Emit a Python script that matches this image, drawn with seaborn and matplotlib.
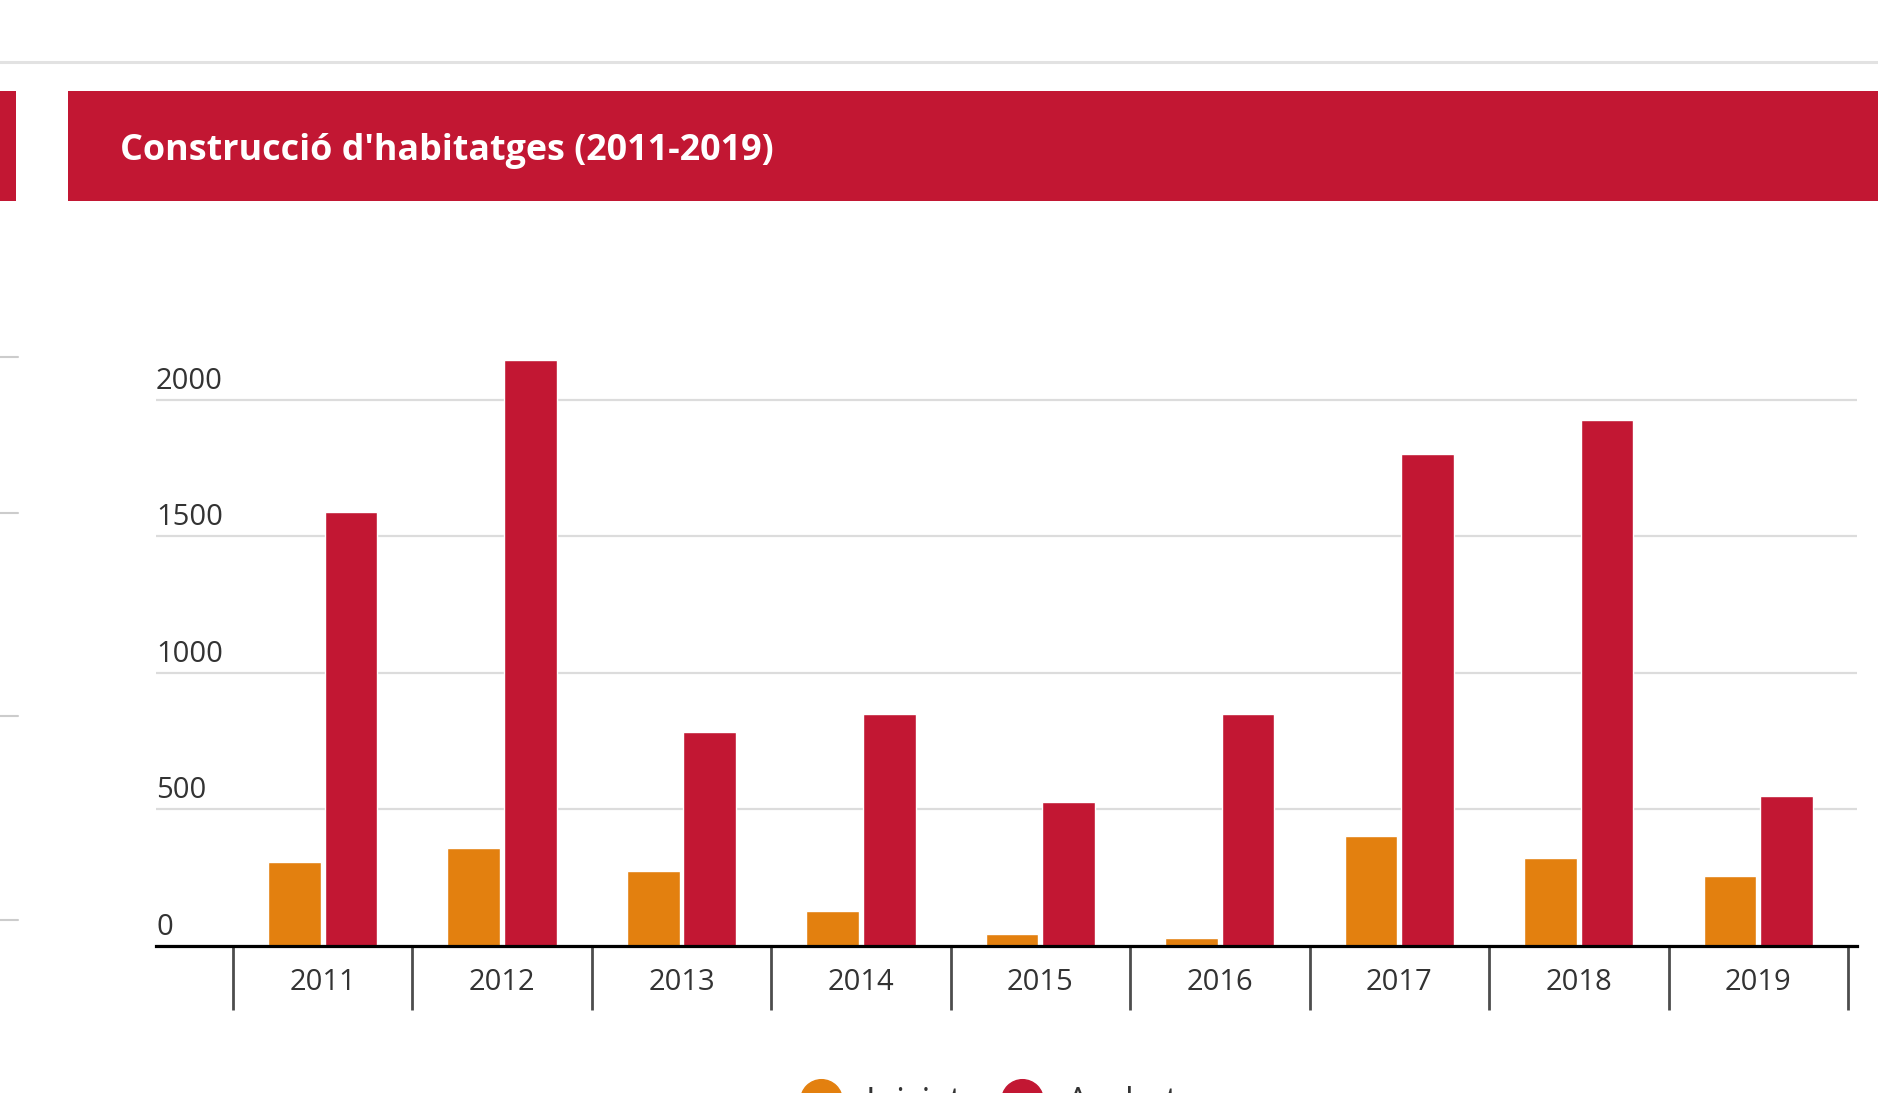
import matplotlib
matplotlib.use("Agg")
import matplotlib.pyplot as plt
from matplotlib.lines import Line2D
from matplotlib.patches import Rectangle
import pandas as pd
import seaborn as sns

# data
years = ["2011", "2012", "2013", "2014", "2015", "2016", "2017", "2018", "2019"]
iniciats = [309, 358, 276, 127, 44, 31, 402, 322, 258]
acabats = [1591, 2147, 785, 851, 526, 851, 1801, 1928, 551]
series_names = ["Iniciats", "Acabats"]
y_ticks = [0, 500, 1000, 1500, 2000]
title = "Construcció d'habitatges (2011-2019)"

orange = "#E3800F"
red = "#C21733"

df = pd.DataFrame({
    "year": years * 2,
    "value": iniciats + acabats,
    "serie": [series_names[0]] * len(years) + [series_names[1]] * len(years),
})

sns.set_style("white")
plt.rcParams["font.family"] = ["Open Sans", "DejaVu Sans"]

W, H = 1878, 1093
fig = plt.figure(figsize=(W / 100, H / 100), dpi=100)
ax = fig.add_axes([156 / W, 0.1345, (1857 - 156) / W, 0.5495])

sns.barplot(data=df, x="year", y="value", hue="serie", order=years,
            hue_order=series_names, palette=[orange, red],
            width=0.63, gap=0.07, saturation=1, ax=ax, legend=False)

ax.set_xlim(-0.928, 8.55)
ax.set_ylim(0, 2200)
ax.set_xlabel("")
ax.set_ylabel("")

# gridlines and axis styling
ax.set_yticks(y_ticks)
ax.set_yticklabels([])
ax.tick_params(axis="y", length=0)
ax.yaxis.grid(True, color="#dcdcdc", linewidth=1.6)
ax.set_axisbelow(True)
for s in ["left", "right", "top"]:
    ax.spines[s].set_visible(False)
ax.spines["bottom"].set_color("black")
ax.spines["bottom"].set_linewidth(2.3)

# category separators as minor ticks
ax.set_xticks([i - 0.5 for i in range(len(years) + 1)], minor=True)
ax.tick_params(axis="x", which="minor", bottom=True, length=46, width=2.0,
               color="#4d4d4d", direction="out")
ax.tick_params(axis="x", which="major", length=0, pad=16, labelsize=21,
               labelcolor="#333333")

# y labels sit above the gridlines, left aligned
for v in y_ticks:
    ax.annotate(str(v), xy=(0, v), xycoords=("axes fraction", "data"),
                xytext=(0, 3), textcoords="offset points",
                ha="left", va="bottom", fontsize=21, color="#333333")

# header band
fig.add_artist(Line2D([0, 1], [0.9433, 0.9433], transform=fig.transFigure,
                      color="#e2e2e2", linewidth=2.2))
fig.add_artist(Rectangle((68 / W, 0.8161), 1 - 68 / W, 0.1006,
                         transform=fig.transFigure, color=red, lw=0))
fig.add_artist(Rectangle((0, 0.8161), 16 / W, 0.1006,
                         transform=fig.transFigure, color=red, lw=0))
fig.text(120 / W, 1 - 151 / H, title, color="white", fontsize=25.8,
         fontweight="bold", ha="left", va="center")

# leftover ticks from the neighbouring panel
for yy in [357, 513, 716, 920]:
    fig.add_artist(Line2D([0, 18 / W], [1 - yy / H, 1 - yy / H],
                          transform=fig.transFigure, color="#cccccc", linewidth=1.5))

# legend, mostly cut by the bottom edge as in the source
handles = [Line2D([], [], marker="o", linestyle="", markersize=30,
                  markerfacecolor=c, markeredgecolor=c) for c in [orange, red]]
fig.legend(handles, series_names, loc="center left",
           bbox_to_anchor=(783 / W, -0.009), ncol=2, frameon=False,
           fontsize=25, borderpad=0, handlelength=1.2, handletextpad=0.69,
           columnspacing=0.62, labelcolor="#333333")

fig.savefig("out.png", dpi=100)
